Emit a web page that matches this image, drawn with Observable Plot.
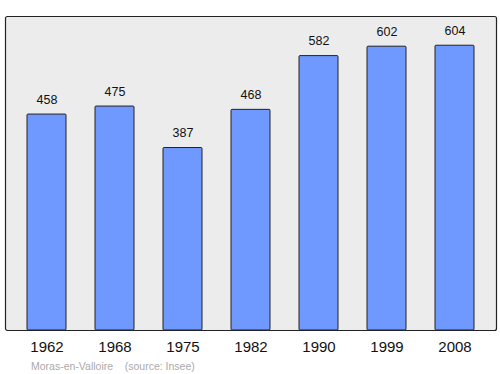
<!DOCTYPE html>
<html>
<head>
<meta charset="utf-8">
<script src="https://cdn.jsdelivr.net/npm/d3@7"></script>
<script src="https://cdn.jsdelivr.net/npm/@observablehq/plot@0.6"></script>
<style>
  html, body { margin: 0; padding: 0; background: #fff; }
  #caption { font-family: "Liberation Sans", Arial, sans-serif; font-size: 10.5px; color: #aaa; margin: 1px 0 0 31px; line-height: 14px; white-space: pre; }
</style>
</head>
<body>
<div id="chart"></div>
<div id="caption"></div>
<script>
const years = ["1962", "1968", "1975", "1982", "1990", "1999", "2008"];
const population = [458, 475, 387, 468, 582, 602, 604];
const captionText = "Moras-en-Valloire    (source: Insee)";

const data = years.map((y, i) => ({year: y, value: population[i]}));

const chart = Plot.plot({
  width: 500,
  height: 358,
  marginTop: 16,
  marginBottom: 28,
  marginLeft: 26,
  marginRight: 24,
  style: {fontFamily: "'Liberation Sans', Arial, sans-serif", background: "transparent"},
  x: {domain: years, paddingInner: 0.42, paddingOuter: 0, label: null},
  y: {domain: [0, 666], axis: null},
  marks: [
    Plot.frame({fill: "#ececec", stroke: "#222", strokeWidth: 1.2, rx: 2, insetLeft: -21, insetRight: -20}),
    Plot.barY(data, {x: "year", y: "value", fill: "#7099ff", stroke: "#222", strokeWidth: 1, rx: 1}),
    Plot.text(data, {x: "year", y: "value", text: d => String(d.value), dy: -15, fontSize: 12.5, fill: "#111"}),
    Plot.axisX({tickSize: 0, tickPadding: 11, fontSize: 15, label: null, fill: "#111"})
  ]
});
document.getElementById("chart").appendChild(chart);
document.getElementById("caption").textContent = captionText;
</script>
</body>
</html>
